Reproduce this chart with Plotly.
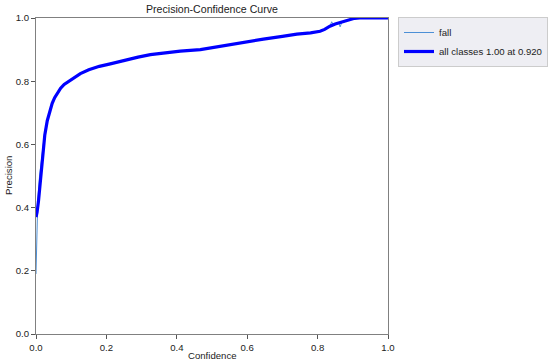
import plotly.graph_objects as go

# Data
conf_all = [0, 0.003, 0.007, 0.011, 0.016, 0.02, 0.025, 0.032, 0.039, 0.046, 0.053, 0.06, 0.07,
            0.08, 0.093, 0.11, 0.126, 0.15, 0.18, 0.211, 0.25, 0.29, 0.325, 0.37, 0.41, 0.467,
            0.52, 0.58, 0.646, 0.7, 0.741, 0.78, 0.807, 0.82, 0.835, 0.85, 0.872, 0.89, 0.905,
            0.92, 1.0]
prec_all = [0.37, 0.385, 0.42, 0.465, 0.53, 0.58, 0.63, 0.675, 0.705, 0.73, 0.748, 0.762, 0.778,
            0.79, 0.80, 0.813, 0.824, 0.836, 0.847, 0.855, 0.866, 0.876, 0.884, 0.89, 0.895, 0.90,
            0.91, 0.922, 0.933, 0.942, 0.949, 0.953, 0.958, 0.964, 0.974, 0.981, 0.988, 0.995,
            0.999, 1.0, 1.0]

conf_fall = [0, 0.002, 0.005, 0.01, 0.016, 0.02, 0.025, 0.032, 0.039, 0.046, 0.053, 0.06, 0.07,
             0.08, 0.093, 0.11, 0.126, 0.15, 0.18, 0.211, 0.25, 0.29, 0.325, 0.37, 0.41, 0.467,
             0.52, 0.58, 0.646, 0.7, 0.741, 0.78, 0.807, 0.82, 0.835, 0.84, 0.845, 0.86, 0.864,
             0.868, 0.872, 0.89, 0.905, 0.92, 1.0]
prec_fall = [0.19, 0.30, 0.42, 0.50, 0.56, 0.60, 0.64, 0.68, 0.707, 0.731, 0.749, 0.762, 0.778,
             0.79, 0.80, 0.813, 0.824, 0.836, 0.847, 0.855, 0.866, 0.876, 0.884, 0.89, 0.895, 0.90,
             0.91, 0.922, 0.933, 0.942, 0.949, 0.953, 0.958, 0.964, 0.974, 0.988, 0.978, 0.985,
             0.972, 0.984, 0.988, 0.995, 0.999, 1.0, 1.0]

series_names = ["fall", "all classes 1.00 at 0.920"]
ticks = [0.0, 0.2, 0.4, 0.6, 0.8, 1.0]
tick_text = ["0.0", "0.2", "0.4", "0.6", "0.8", "1.0"]
title_text = "Precision-Confidence Curve"
x_title = "Confidence"
y_title = "Precision"

W, H = 550, 363
L, R, T, B = 36, 162, 18, 29
PW = W - L - R
PH = H - T - B
FS = 9.6

fig = go.Figure()
fig.add_trace(go.Scatter(x=conf_fall, y=prec_fall, mode="lines", name=series_names[0],
                         line=dict(color="#4c8fd6", width=1)))
fig.add_trace(go.Scatter(x=conf_all, y=prec_all, mode="lines", name=series_names[1],
                         line=dict(color="#0000ff", width=3.2)))

axis_common = dict(range=[0, 1], showgrid=False, zeroline=False, showline=True,
                   linecolor="#808080", linewidth=1.2, mirror=True, ticks="outside",
                   ticklen=4, tickcolor="#555555", tickwidth=1, automargin=False,
                   tickvals=ticks, ticktext=tick_text,
                   tickfont=dict(size=FS, color="#222222"))

fig.update_layout(
    width=W, height=H,
    margin=dict(l=L, r=R, t=T, b=B, autoexpand=False),
    paper_bgcolor="white", plot_bgcolor="white",
    font=dict(family="Liberation Sans, Arial, sans-serif", size=FS, color="#222222"),
    xaxis=dict(**axis_common),
    yaxis=dict(**axis_common),
    showlegend=True,
    legend=dict(x=(398 - L) / PW, y=(H - B - 17) / PH, xanchor="left", yanchor="top",
                bgcolor="#eeeef3", bordercolor="#cccccc", borderwidth=1,
                font=dict(size=FS, color="#222222"), tracegroupgap=0,
                itemwidth=30),
    annotations=[
        dict(text=title_text, xref="paper", yref="paper", x=0.5, y=(H - B - 9) / PH,
             xanchor="center", yanchor="middle", showarrow=False,
             font=dict(size=10.6, color="#222222")),
        dict(text=x_title, xref="paper", yref="paper", x=0.5, y=-(355 - (H - B)) / PH,
             xanchor="center", yanchor="middle", showarrow=False,
             font=dict(size=FS, color="#222222")),
        dict(text=y_title, xref="paper", yref="paper", x=-(L - 8) / PW, y=0.5,
             xanchor="center", yanchor="middle", showarrow=False, textangle=-90,
             font=dict(size=FS, color="#222222")),
    ],
)

fig.write_html("out.html", config={"displayModeBar": False},
               post_script="document.body.style.margin='0';document.body.style.overflow='hidden';")
